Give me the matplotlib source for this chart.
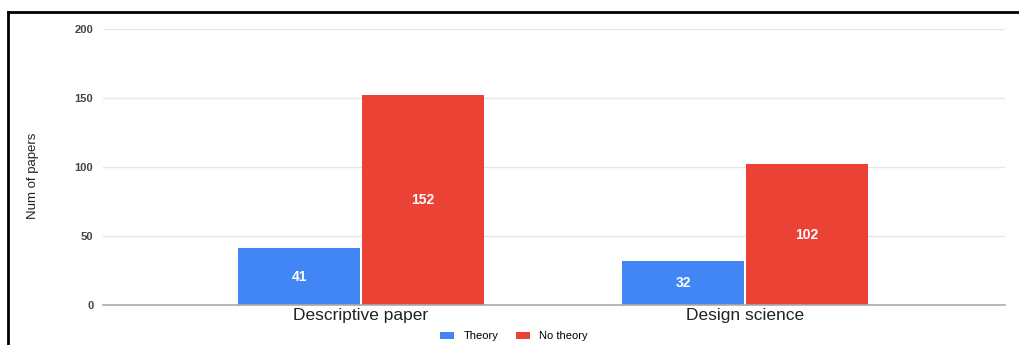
import matplotlib.pyplot as plt
from matplotlib.lines import Line2D
import numpy as np

plt.rcParams["font.family"] = ["Liberation Sans", "DejaVu Sans"]

categorias = ["Descriptive paper", "Design science"]
con_teoria = [41, 32]
sin_teoria = [152, 102]
series = ["Theory", "No theory"]
colores = ["#4285F4", "#EA4335"]

W, H = 1019, 345
fig = plt.figure(figsize=(W / 100, H / 100), dpi=100)
ax = fig.add_axes([103 / W, 1 - 305 / H, (1005 - 103) / W, (305 - 29) / H])

x = np.arange(len(categorias))
ancho = 0.323
barras = []
for i, (vals, nombre, color) in enumerate(zip([con_teoria, sin_teoria], series, colores)):
    pos = x + (i - 0.5) * ancho
    b = ax.bar(pos, vals, width=ancho - 0.004, color=color, label=nombre, zorder=3)
    barras.append(b)
    for p, v in zip(pos, vals):
        ax.text(p, v / 2, str(v), ha="center", va="center", color="white",
                fontsize=10, fontweight="bold", zorder=4)

ax.set_xlim(-0.672, 1.677)
ax.set_ylim(0, 200)
ax.set_yticks([0, 50, 100, 150, 200])
ax.set_xticks(x)
ax.set_xticklabels(categorias, fontsize=12.5, color="#222222")
ax.tick_params(axis="y", length=0, labelsize=8, labelcolor="#444444", pad=7)
for t in ax.get_yticklabels():
    t.set_fontweight("bold")
ax.tick_params(axis="x", length=0, pad=2)
ax.grid(axis="y", color="#e6e6e6", linewidth=1, zorder=0)
for s in ["top", "right", "left"]:
    ax.spines[s].set_visible(False)
ax.spines["bottom"].set_color("#aaaaaa")
ax.spines["bottom"].set_linewidth(1.2)
ax.spines["bottom"].set_zorder(5)

fig.text(33 / W, 1 - 176 / H, "Num of papers", rotation=90, ha="center",
         va="center", fontsize=9.5, color="#222222")

fig.legend(handles=barras, labels=series, loc="center", ncol=2,
           bbox_to_anchor=(514 / W, 1 - 336 / H), frameon=False, fontsize=8,
           handlelength=1.3, handleheight=0.6, columnspacing=1.6, handletextpad=0.8)

# marco negro arriba e izquierda
fig.add_artist(Line2D([8 / W, 1], [1 - 12 / H, 1 - 12 / H], color="black", linewidth=2,
                      transform=fig.transFigure))
fig.add_artist(Line2D([8 / W, 8 / W], [0, 1 - 12 / H], color="black", linewidth=2,
                      transform=fig.transFigure))

fig.savefig("out.png", dpi=100)
